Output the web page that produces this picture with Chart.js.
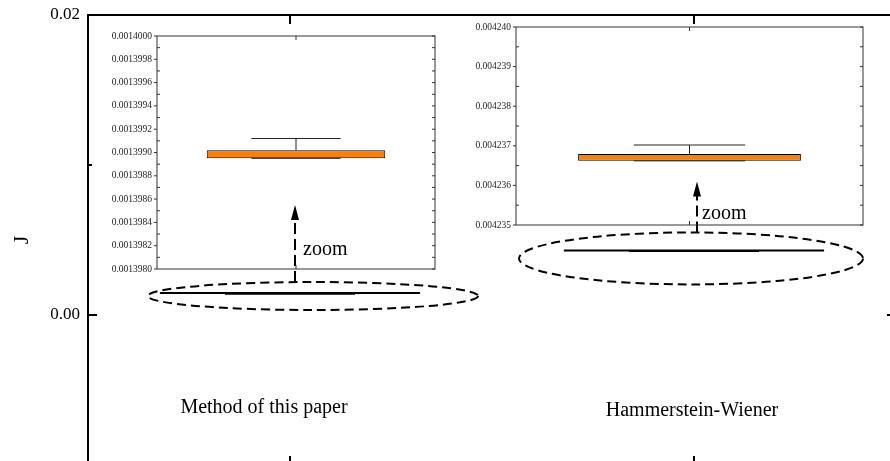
<!DOCTYPE html>
<html>
<head>
<meta charset="utf-8">
<script src="https://cdn.jsdelivr.net/npm/chart.js@4.4.1/dist/chart.umd.min.js"></script>
<style>
    html, body { margin: 0; padding: 0; background: #fff; overflow: hidden; }
    #wrap { position: relative; width: 890px; height: 461px; overflow: hidden; background: #fff; }
    #mainChart { position: absolute; left: 0; top: -20px; }
    #inset1 { position: absolute; left: 95px; top: 16px; }
    #inset2 { position: absolute; left: 460px; top: 7px; }
</style>
</head>
<body>
<div id="wrap">
    <canvas id="mainChart" width="900" height="510"></canvas>
    <canvas id="inset1" width="345" height="270"></canvas>
    <canvas id="inset2" width="410" height="235"></canvas>
</div>
<script>
// data
const categories = ['Method of this paper', 'Hammerstein-Wiener'];
const boxLow = [0.00139895, 0.00423662];      // Q1
const boxHigh = [0.00139902, 0.00423679];     // Q3
const whiskerMax = [0.00139912, 0.00423702];
const whiskerMin = [0.00139895, 0.00423662];

const mainRange = [-0.01, 0.02];
const mainStep = 0.01;
const inset1Range = [0.0013980, 0.0014000];
const inset1Step = 0.0000002;
const inset2Range = [0.004235, 0.004240];
const inset2Step = 0.000001;

const SERIF = "'Liberation Serif', 'Times New Roman', serif";

// frame + inward/outward tick marks drawn from the scales
function makeFrame(o) {
    return {
        id: 'frame',
        afterDraw(chart) {
            const { ctx, chartArea: a, scales } = chart;
            const x = scales.x, y = scales.y;
            ctx.save();
            ctx.strokeStyle = o.color;
            ctx.lineWidth = o.lineWidth;
            ctx.strokeRect(a.left, a.top, a.right - a.left, a.bottom - a.top);
            ctx.lineWidth = o.tickWidth;
            const marks = [];
            const ticks = y.ticks;
            ticks.forEach((t, i) => {
                const major = o.minorMode === 'unlabeled' ? t.label !== '' : true;
                marks.push({ v: t.value, major: major });
                if (o.minorMode === 'mid' && i < ticks.length - 1) {
                    marks.push({ v: (t.value + ticks[i + 1].value) / 2, major: false });
                }
            });
            ctx.beginPath();
            marks.forEach(m => {
                const py = y.getPixelForValue(m.v);
                const l = m.major ? o.left[0] : o.left[1];
                const r = m.major ? o.right[0] : o.right[1];
                ctx.moveTo(a.left, py); ctx.lineTo(a.left + l, py);
                ctx.moveTo(a.right, py); ctx.lineTo(a.right - r, py);
            });
            o.cats.forEach((c, i) => {
                const px = x.getPixelForValue(i);
                ctx.moveTo(px, a.top); ctx.lineTo(px, a.top + o.top);
                ctx.moveTo(px, a.bottom); ctx.lineTo(px, a.bottom - o.bottom);
            });
            ctx.stroke();
            ctx.restore();
        }
    };
}

// whiskers and caps on top of the floating bars
function makeWhiskers(hi, lo, q1, q3, color) {
    return {
        id: 'whiskers',
        afterDatasetsDraw(chart) {
            const { ctx, scales: { y } } = chart;
            const meta = chart.getDatasetMeta(0);
            ctx.save();
            ctx.strokeStyle = color;
            ctx.lineWidth = 1;
            ctx.beginPath();
            meta.data.forEach((bar, i) => {
                const cap = bar.width / 4;
                const yMax = y.getPixelForValue(hi[i]);
                const yMin = y.getPixelForValue(lo[i]);
                const yQ3 = y.getPixelForValue(q3[i]);
                const yQ1 = y.getPixelForValue(q1[i]);
                ctx.moveTo(bar.x, yQ3); ctx.lineTo(bar.x, yMax);
                ctx.moveTo(bar.x - cap, yMax); ctx.lineTo(bar.x + cap, yMax);
                ctx.moveTo(bar.x, yQ1); ctx.lineTo(bar.x, yMin);
                ctx.moveTo(bar.x - cap, yMin); ctx.lineTo(bar.x + cap, yMin);
            });
            ctx.stroke();
            ctx.restore();
        }
    };
}

// dashed ellipses, arrows, "zoom" notes and category names
const zoomMarks = {
    id: 'zoomMarks',
    afterDraw(chart) {
        const { ctx, chartArea: a, scales: { x, y } } = chart;
        const spots = [
            { dx: 23, dy: 2, rx: 165, ry: 14, ax: 5, tip: 77, tx: 8, tb: 50 },
            { dx: -3, dy: 7, rx: 172, ry: 26, ax: 3, tip: 51, tx: 5, tb: 38 }
        ];
        ctx.save();
        ctx.strokeStyle = '#000';
        ctx.fillStyle = '#000';
        ctx.lineWidth = 2;
        spots.forEach((s, i) => {
            const cx = x.getPixelForValue(i) + s.dx;
            const cy = y.getPixelForValue((boxLow[i] + boxHigh[i]) / 2) + s.dy;
            ctx.setLineDash([9, 5]);
            ctx.beginPath();
            ctx.ellipse(cx, cy, s.rx, s.ry, 0, 0, Math.PI * 2);
            ctx.stroke();
            // arrow
            const axp = x.getPixelForValue(i) + s.ax;
            const yBottom = cy - s.ry;
            const yTip = yBottom - s.tip;
            ctx.setLineDash([11, 5]);
            ctx.beginPath();
            ctx.moveTo(axp, yBottom);
            ctx.lineTo(axp, yTip + 14);
            ctx.stroke();
            ctx.setLineDash([]);
            ctx.beginPath();
            ctx.moveTo(axp, yTip);
            ctx.lineTo(axp - 4, yTip + 15);
            ctx.lineTo(axp + 4, yTip + 15);
            ctx.closePath();
            ctx.fill();
            ctx.font = '20px ' + SERIF;
            ctx.textAlign = 'left';
            ctx.textBaseline = 'alphabetic';
            ctx.fillText('zoom', axp + s.tx, yTip + s.tb);
        });
        const labelShift = [-26, -2];
        const labelLift = [52, 49];
        ctx.font = '20px ' + SERIF;
        ctx.textAlign = 'center';
        categories.forEach((c, i) => {
            ctx.fillText(c, x.getPixelForValue(i) + labelShift[i], a.bottom - labelLift[i]);
        });
        ctx.restore();
    }
};

function yAxis(range, step, width, fontSize, fmt, color, padding) {
    return {
        min: range[0],
        max: range[1],
        border: { display: false },
        grid: { display: false, drawTicks: false },
        ticks: {
            stepSize: step,
            autoSkip: false,
            padding: padding,
            color: color,
            font: { family: SERIF, size: fontSize },
            callback: fmt
        },
        afterFit: function (scale) { scale.width = width; }
    };
}

document.addEventListener('DOMContentLoaded', function () {
    // main chart
    new Chart(document.getElementById('mainChart'), {
        type: 'bar',
        data: {
            labels: categories,
            datasets: [{
                data: categories.map((c, i) => [boxLow[i], boxHigh[i]]),
                backgroundColor: '#000',
                borderWidth: 0,
                minBarLength: 2,
                barPercentage: 0.644,
                categoryPercentage: 1
            }]
        },
        options: {
            responsive: false,
            animation: false,
            layout: { padding: { left: 0, top: 35, right: 4, bottom: 25 } },
            plugins: { legend: { display: false }, tooltip: { enabled: false } },
            scales: {
                x: { display: false },
                y: Object.assign(
                    yAxis(mainRange, mainStep, 88, 17,
                        v => Math.round(v * 100) % 2 === 0 ? v.toFixed(2) : '', '#000', 8),
                    { title: { display: true, text: 'J', color: '#000', font: { family: SERIF, size: 22 }, padding: { top: 9, bottom: 0 } } }
                )
            }
        },
        plugins: [
            makeWhiskers(whiskerMax, whiskerMin, boxLow, boxHigh, '#000'),
            makeFrame({ color: '#000', lineWidth: 2, tickWidth: 2, minorMode: 'unlabeled', left: [9, 4], right: [9, 4], top: 9, bottom: 9, cats: categories }),
            zoomMarks
        ]
    });

    // insets
    const insets = [
        { id: 'inset1', range: inset1Range, step: inset1Step, width: 62, pad: { left: 0, top: 20, right: 5, bottom: 17 }, digits: 7 },
        { id: 'inset2', range: inset2Range, step: inset2Step, width: 56, pad: { left: 0, top: 20, right: 7, bottom: 17 }, digits: 6 }
    ];
    insets.forEach((s, i) => {
        new Chart(document.getElementById(s.id), {
            type: 'bar',
            data: {
                labels: [categories[i]],
                datasets: [{
                    data: [[boxLow[i], boxHigh[i]]],
                    backgroundColor: '#ff8000',
                    borderColor: '#000',
                    borderWidth: 1,
                    borderSkipped: false,
                    barPercentage: 0.642,
                    categoryPercentage: 1
                }]
            },
            options: {
                responsive: false,
                animation: false,
                layout: { padding: s.pad },
                plugins: { legend: { display: false }, tooltip: { enabled: false } },
                scales: {
                    x: { display: false },
                    y: yAxis(s.range, s.step, s.width, 9.5, v => v.toFixed(s.digits), '#222', 5)
                }
            },
            plugins: [
                makeWhiskers([whiskerMax[i]], [whiskerMin[i]], [boxLow[i]], [boxHigh[i]], '#222'),
                makeFrame({ color: '#333', lineWidth: 1, tickWidth: 1, minorMode: 'mid', left: [-3, 3], right: [3, 3], top: 4, bottom: 4, cats: [categories[i]] })
            ]
        });
    });
});
</script>
</body>
</html>
